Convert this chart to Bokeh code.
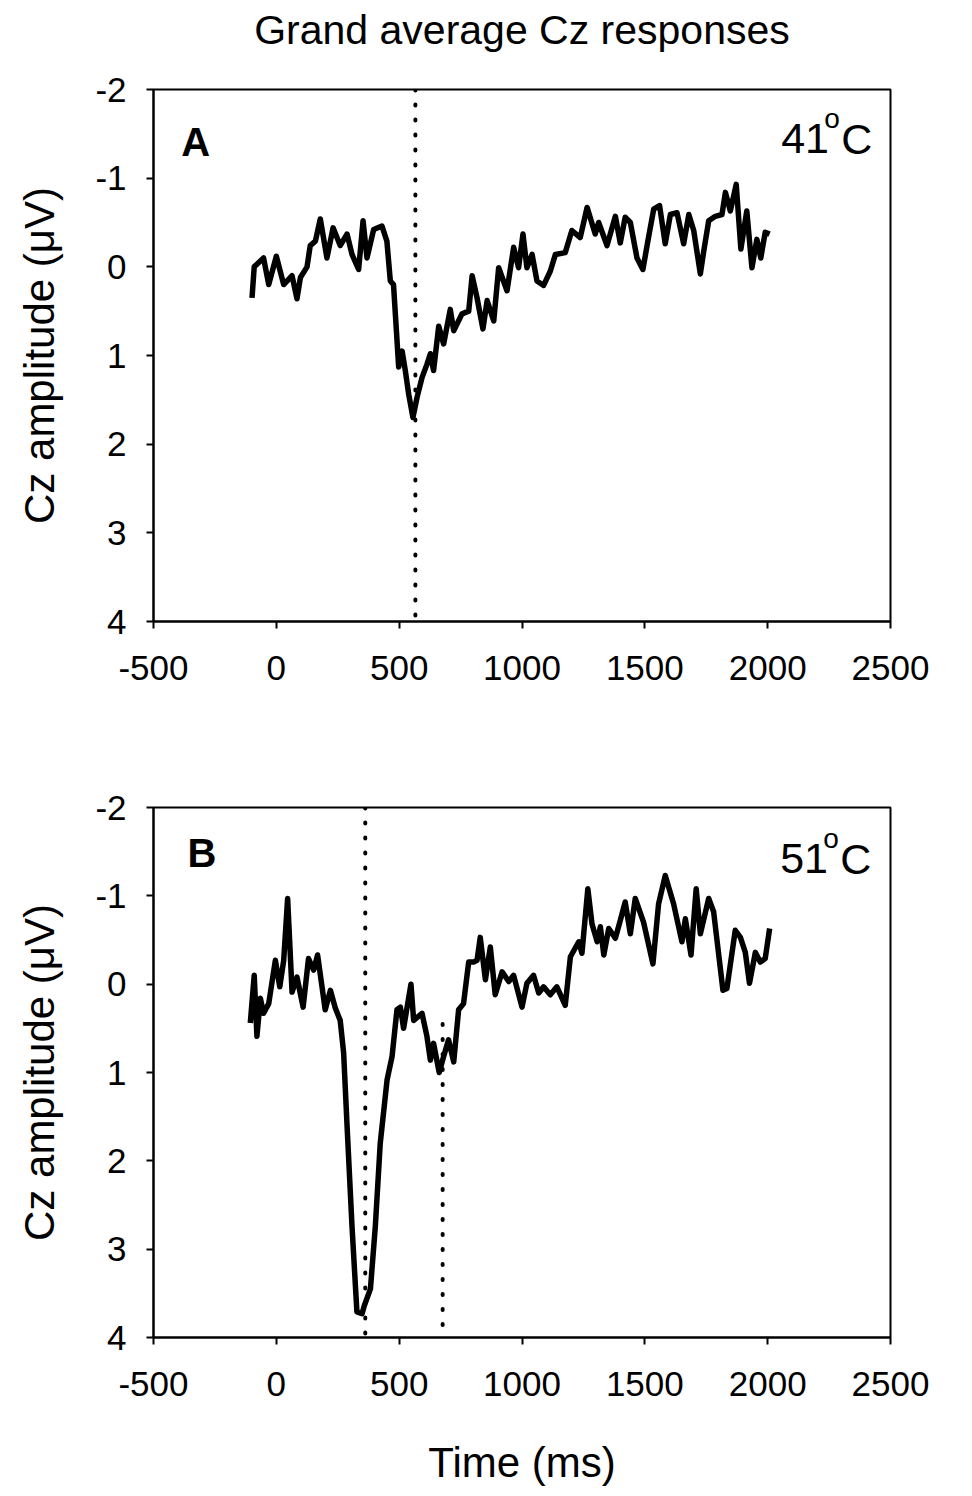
from bokeh.plotting import figure
from bokeh.models import Range1d, FixedTicker, LinearAxis
from bokeh.layouts import column
from bokeh.embed import file_html
from bokeh.resources import INLINE
from bokeh.core.properties import value

# ---------------- data ----------------
title_text = "Grand average Cz responses"
x_label = "Time (ms)"
y_label = "Cz amplitude (\u03bcV)"
x_ticks = [-500, 0, 500, 1000, 1500, 2000, 2500]
y_ticks = [-2, -1, 0, 1, 2, 3, 4]

panel_names = ["A", "B"]
panel_temps = ["41", "51"]

time_a = [-99, -90, -52, -31, 0, 30, 64, 84, 98, 125, 138, 159, 179, 206, 231, 260, 288, 308, 335, 353,
          369, 396, 430, 450, 464, 477, 498, 512, 525, 539, 556, 573, 593, 613, 627, 640, 661, 681, 708,
          722, 756, 783, 797, 817, 841, 858, 885, 905, 939, 966, 986, 1004, 1020, 1041, 1061, 1088, 1115,
          1136, 1176, 1203, 1237, 1265, 1298, 1312, 1346, 1380, 1400, 1420, 1441, 1468, 1492, 1515, 1536,
          1560, 1583, 1604, 1631, 1658, 1679, 1699, 1726, 1740, 1760, 1787, 1814, 1828, 1848, 1872, 1891,
          1915, 1936, 1956, 1972, 1990, 2008]
amp_a = [0.35, 0.0, -0.1, 0.2, -0.12, 0.2, 0.1, 0.36, 0.12, 0.0, -0.24, -0.29, -0.54, -0.1, -0.44, -0.24,
         -0.37, -0.14, 0.03, -0.52, -0.1, -0.42, -0.46, -0.29, 0.16, 0.2, 1.13, 0.95, 1.17, 1.44, 1.7, 1.47,
         1.25, 1.1, 0.98, 1.17, 0.67, 0.87, 0.48, 0.72, 0.53, 0.5, 0.1, 0.35, 0.7, 0.38, 0.61, 0.01, 0.27,
         -0.22, 0.01, -0.37, 0.01, -0.14, 0.16, 0.21, 0.05, -0.14, -0.16, -0.41, -0.33, -0.67, -0.37, -0.5,
         -0.24, -0.57, -0.27, -0.56, -0.5, -0.1, 0.03, -0.33, -0.65, -0.69, -0.26, -0.59, -0.61, -0.26,
         -0.59, -0.41, 0.08, -0.18, -0.52, -0.57, -0.59, -0.84, -0.63, -0.93, -0.2, -0.63, 0.01, -0.31,
         -0.1, -0.39, -0.37]

time_b = [-106, -90, -79, -65, -52, -31, -4, 14, 30, 46, 64, 84, 109, 131, 152, 168, 199, 220, 240, 260,
          274, 288, 308, 328, 349, 358, 383, 403, 423, 451, 471, 491, 505, 518, 548, 559, 593, 613, 627,
          640, 663, 681, 701, 722, 742, 762, 783, 803, 817, 830, 851, 871, 891, 919, 946, 966, 1000, 1020,
          1047, 1068, 1088, 1115, 1142, 1176, 1197, 1231, 1244, 1268, 1285, 1306, 1319, 1333, 1353, 1380,
          1400, 1420, 1441, 1461, 1495, 1533, 1556, 1583, 1617, 1651, 1665, 1688, 1709, 1726, 1760, 1780,
          1818, 1834, 1868, 1889, 1909, 1926, 1950, 1970, 1990, 2008]
amp_b = [0.44, -0.1, 0.59, 0.16, 0.33, 0.22, -0.27, 0.03, -0.27, -0.97, 0.09, -0.08, 0.26, -0.29, -0.16,
         -0.33, 0.29, 0.07, 0.27, 0.41, 0.78, 1.61, 2.74, 3.71, 3.73, 3.64, 3.45, 2.74, 1.8, 1.08, 0.82,
         0.29, 0.26, 0.5, 0.0, 0.41, 0.33, 0.59, 0.86, 0.67, 1.0, 0.82, 0.63, 0.88, 0.29, 0.22, -0.25,
         -0.25, -0.27, -0.53, -0.05, -0.42, 0.12, -0.14, -0.03, -0.1, 0.26, -0.01, -0.1, 0.1, 0.03, 0.12,
         0.03, 0.24, -0.31, -0.48, -0.35, -1.08, -0.68, -0.48, -0.65, -0.33, -0.63, -0.52, -0.72, -0.93,
         -0.57, -0.97, -0.7, -0.23, -0.91, -1.23, -0.91, -0.48, -0.74, -0.33, -1.08, -0.57, -0.97, -0.82,
         0.07, 0.05, -0.61, -0.53, -0.36, -0.01, -0.36, -0.25, -0.29, -0.63]

# dotted latency markers: time, amplitude start, amplitude end
marker_a_time = [566]
marker_a_from = [-2]
marker_a_to = [4]
marker_b_time = [362, 677]
marker_b_from = [-2, 0.45]
marker_b_to = [4, 4]

FONT = "Liberation Sans"
W = 956
FRAME_L = 153
FRAME_R = 890


def make_panel(height, top, bottom, times, amps, mk_t, mk_from, mk_to, name, temp,
               name_pos, temp_pos, show_title, show_xlabel):
    p = figure(width=W, height=height, output_backend="svg", toolbar_location=None,
               x_range=Range1d(-500, 2500), y_range=Range1d(4, -2),
               min_border_left=FRAME_L, min_border_right=W - FRAME_R,
               min_border_top=top, min_border_bottom=bottom)
    p.background_fill_color = "white"
    p.border_fill_color = "white"
    p.grid.visible = False
    p.outline_line_color = "black"
    p.outline_line_width = 2

    for ax in (p.xaxis[0], p.yaxis[0]):
        ax.axis_line_width = 2
        ax.axis_line_color = "black"
        ax.major_tick_line_width = 2
        ax.major_tick_in = 0
        ax.major_tick_out = 7
        ax.minor_tick_line_color = None
        ax.major_label_text_font = FONT
        ax.major_label_text_font_size = "35px"
        ax.major_label_text_color = "black"
        ax.axis_label_text_font = FONT
        ax.axis_label_text_font_size = "42px"
        ax.axis_label_text_font_style = "normal"
        ax.axis_label_text_color = "black"

    p.xaxis.ticker = FixedTicker(ticks=x_ticks)
    p.yaxis.ticker = FixedTicker(ticks=y_ticks)
    p.xaxis.major_label_overrides = {t: str(t) for t in x_ticks}
    p.yaxis.major_label_overrides = {t: str(t) for t in y_ticks}
    p.xaxis.major_label_standoff = 27
    p.yaxis.major_label_standoff = 20
    p.yaxis.axis_label = y_label
    p.yaxis.axis_label_standoff = 29
    if show_xlabel:
        p.xaxis.axis_label = x_label
        p.xaxis.axis_label_standoff = 40

    if show_title:
        top_axis = LinearAxis(ticker=FixedTicker(ticks=[]), axis_label=title_text,
                              axis_line_color=None, major_tick_line_color=None,
                              minor_tick_line_color=None, major_tick_out=0, major_tick_in=0,
                              major_label_standoff=0, axis_label_standoff=37,
                              axis_label_text_font=FONT, axis_label_text_font_size="41px",
                              axis_label_text_font_style="normal",
                              axis_label_text_color="black")
        p.add_layout(top_axis, "above")

    p.line(times, amps, line_color="black", line_width=5.5, line_join="round")

    for t, a0, a1 in zip(mk_t, mk_from, mk_to):
        p.line([t, t], [a0, a1], line_color="black", line_width=4, line_dash="1 14",
               line_cap="round")

    p.text(x=[name_pos[0]], y=[name_pos[1]], text=[name], text_font=value(FONT),
           text_font_size="40px", text_font_style="bold", text_color="black",
           text_align="left", text_baseline="alphabetic")
    tx, ty = temp_pos
    p.text(x=[tx], y=[ty], text=[temp], text_font=value(FONT), text_font_size="43px",
           text_color="black", text_align="left", text_baseline="alphabetic")
    p.text(x=[tx], y=[ty], text=["o"], x_offset=43, y_offset=-20, text_font=value(FONT),
           text_font_size="28px", text_color="black", text_align="left", text_baseline="alphabetic")
    p.text(x=[tx], y=[ty], text=["C"], x_offset=60, text_font=value(FONT), text_font_size="43px",
           text_color="black", text_align="left", text_baseline="alphabetic")
    return p


HA = 720
HB = 768
pA = make_panel(HA, 89, HA - 621, time_a, amp_a, marker_a_time, marker_a_from, marker_a_to,
                panel_names[0], panel_temps[0], (-387, -1.41), (2055, -1.445), True, False)
pB = make_panel(HB, 807 - HA, HB - (1339 - HA), time_b, amp_b, marker_b_time, marker_b_from,
                marker_b_to, panel_names[1], panel_temps[1], (-362, -1.49), (2051, -1.42),
                False, True)

layout = column(pA, pB, spacing=0)
open("out.html", "w").write(file_html(layout, INLINE))
